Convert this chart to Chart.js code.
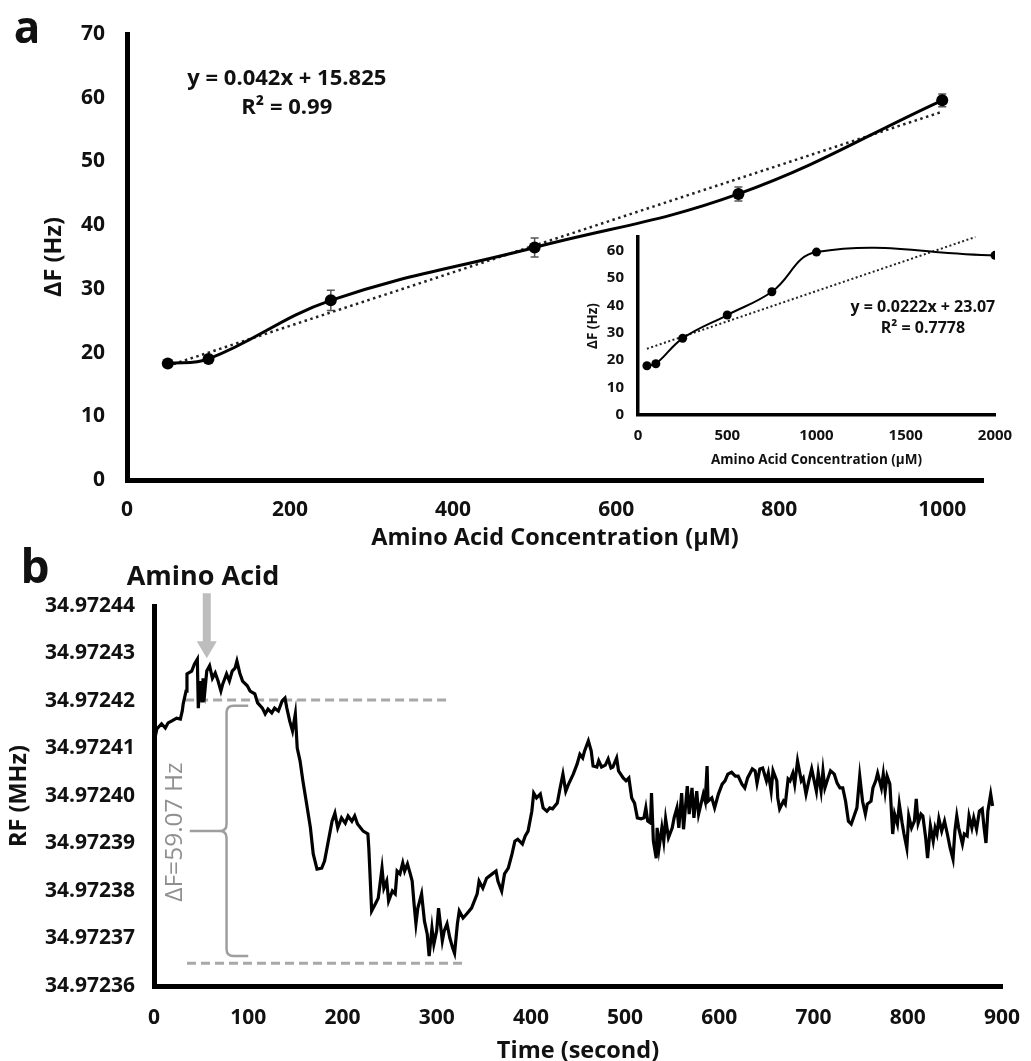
<!DOCTYPE html>
<html>
<head>
<meta charset="utf-8">
<script src="https://cdn.jsdelivr.net/npm/chart.js@4.4.1/dist/chart.umd.min.js"></script>
<style>
  body { margin: 0; background: #fff; }
  #wrap { position: relative; width: 1031px; height: 1061px; overflow: hidden; }
  canvas { position: absolute; }
</style>
</head>
<body>
<div id="wrap">
  <canvas id="chartA" width="1031" height="560" style="left:0;top:0"></canvas>
  <canvas id="chartInset" width="440" height="250" style="left:575px;top:225px"></canvas>
  <canvas id="chartB" width="1031" height="530" style="left:0;top:540px"></canvas>
</div>
<script>
// panel a: calibration curve (uM vs Hz)
const concA = [50, 100, 250, 500, 750, 1000];
const dfA = [18.3, 19.0, 28.2, 36.5, 44.9, 59.6];
const errA = [0.4, 0.5, 1.6, 1.5, 1.1, 1.0];
const trendA = [[50, 17.9], [1000, 57.8]];

// inset: full range up to 2000 uM
const concInset = [50, 100, 250, 500, 750, 1000, 2000];
const dfInset = [18.0, 18.7, 28.0, 36.5, 45.0, 59.5, 58.3];
const trendInset = [[50, 24.2], [1890, 65.0]];

// panel b: RF trace, [time s, Hz above 34.97236 MHz]
const rfBase = 34.97236;
const rfTrace = [[1,52.2],[3,54.1],[8,55.2],[12,54.3],[15,55.4],[19,55.8],[24,56.4],[28,56.2],[30,57.9],[31,59.4],[34,62.1],[35,65.7],[40,66.3],[43,67.8],[46,68.8],[47,58.5],[49,64.2],[51,60.0],[52,64.8],[54,62.1],[56,66.3],[59,67.4],[62,64.8],[65,65.9],[68,64.2],[71,62.1],[73,63.6],[77,65.7],[80,64.2],[83,66.3],[86,66.9],[88,68.4],[91,65.9],[94,64.2],[99,63.2],[102,62.1],[107,61.5],[110,59.6],[115,58.5],[118,57.3],[121,58.3],[125,57.5],[128,58.5],[132,57.9],[136,60.0],[139,60.6],[141,58.5],[144,55.8],[147,53.7],[150,57.3],[152,50.1],[155,47.4],[158,43.2],[162,38.3],[166,33.3],[169,27.8],[173,24.6],[178,24.8],[181,26.3],[185,30.5],[189,34.7],[192,36.4],[195,33.3],[199,35.4],[203,34.3],[206,35.8],[210,34.7],[213,35.8],[216,34.1],[222,32.6],[227,32.0],[228,29.0],[231,15.8],[235,17.3],[238,18.5],[242,24.8],[244,20.6],[247,22.1],[249,17.9],[253,20.0],[256,19.4],[258,24.2],[261,23.6],[264,25.9],[266,24.2],[269,25.7],[272,23.6],[274,22.1],[276,17.3],[278,13.1],[280,16.4],[284,19.4],[287,13.7],[290,10.9],[292,6.3],[295,12.2],[297,8.8],[300,11.6],[302,16.4],[306,9.5],[308,11.6],[311,13.1],[314,10.1],[317,8.0],[319,6.9],[322,13.1],[324,15.8],[328,14.3],[332,15.2],[337,16.4],[343,19.4],[345,22.1],[349,20.6],[353,22.7],[359,23.6],[363,24.2],[365,22.1],[369,20.0],[372,23.6],[376,24.8],[380,27.8],[383,30.5],[386,30.9],[391,29.9],[394,31.6],[397,32.6],[401,36.8],[403,40.6],[406,39.6],[410,40.4],[413,37.5],[417,36.8],[420,37.5],[423,37.3],[428,38.5],[431,41.7],[434,44.6],[437,41.0],[440,42.5],[445,44.6],[449,46.7],[452,48.8],[455,48.0],[457,49.5],[461,51.6],[464,49.5],[466,46.3],[470,46.1],[472,47.4],[475,46.1],[479,46.5],[482,47.8],[485,45.9],[487,46.1],[491,48.0],[493,45.3],[498,43.8],[501,43.2],[504,43.8],[507,39.6],[510,38.5],[513,35.4],[517,35.2],[520,35.4],[522,37.5],[524,34.7],[527,34.3],[528,40.6],[530,30.5],[533,26.9],[534,33.3],[536,29.0],[539,33.3],[541,30.5],[543,35.2],[546,31.2],[550,33.3],[552,35.4],[555,37.5],[557,33.3],[560,40.6],[562,33.0],[566,42.1],[568,36.2],[571,41.7],[573,35.4],[576,41.0],[578,36.2],[583,40.4],[585,38.9],[587,46.3],[588,38.9],[592,39.6],[595,37.5],[599,40.4],[603,42.5],[606,43.2],[609,44.6],[613,45.0],[617,44.2],[620,44.2],[624,42.5],[627,41.7],[630,43.8],[635,45.7],[638,45.3],[640,42.7],[643,45.7],[646,45.9],[650,43.2],[652,44.8],[655,41.0],[657,45.3],[661,43.2],[662,39.6],[664,37.3],[668,38.9],[670,38.3],[673,43.6],[675,43.2],[678,44.8],[680,42.5],[683,47.4],[687,43.2],[689,43.8],[692,40.4],[695,43.2],[698,45.7],[700,43.8],[703,41.0],[705,44.8],[708,41.0],[710,45.3],[712,41.7],[715,43.6],[718,45.3],[722,44.6],[725,42.7],[728,41.7],[731,41.7],[734,38.9],[737,34.7],[740,34.1],[743,35.8],[746,37.5],[749,44.2],[752,38.9],[755,36.2],[757,38.3],[761,38.9],[763,41.7],[766,43.2],[768,44.8],[772,41.7],[774,44.6],[776,41.0],[778,44.2],[781,42.5],[784,32.0],[786,36.2],[789,34.1],[791,38.3],[794,34.3],[796,32.0],[799,29.0],[801,35.8],[804,33.3],[807,34.7],[809,39.4],[811,34.3],[814,36.2],[816,35.8],[819,31.2],[821,26.9],[824,33.7],[827,30.5],[829,33.3],[831,32.0],[833,35.2],[836,32.6],[839,34.7],[842,32.0],[845,29.0],[848,26.7],[850,32.6],[852,35.8],[854,33.3],[858,29.9],[860,32.0],[863,31.6],[865,35.8],[868,33.3],[870,35.4],[873,33.0],[876,36.8],[879,37.3],[881,33.3],[883,30.1],[885,36.8],[888,40.4],[890,37.9]];
const upperLine = [[33, 60.2], [312, 60.2]];
const lowerLine = [[35, 4.8], [332, 4.8]];

const FONT = '"Open Sans", "DejaVu Sans", sans-serif';
const INK = '#111';
const toXY = arr => arr.map(p => ({ x: p[0], y: p[1] }));

// text drawn at data coordinates (or relative to chart area for panel letters)
function notesPlugin(id, notes) {
  return {
    id: id,
    afterDraw(chart) {
      const { ctx, scales, chartArea } = chart;
      notes.forEach(n => {
        let px, py;
        if (n.area) { px = chartArea.left + n.area[0]; py = chartArea.top + n.area[1]; }
        else { px = scales.x.getPixelForValue(n.x); py = scales.y.getPixelForValue(n.y); }
        ctx.save();
        ctx.font = n.font;
        ctx.fillStyle = n.color || INK;
        ctx.textAlign = 'center';
        ctx.textBaseline = 'middle';
        ctx.translate(px, py);
        if (n.rotate) ctx.rotate(n.rotate);
        ctx.fillText(n.text, 0, 0);
        ctx.restore();
      });
    }
  };
}

const errorBars = {
  id: 'errorBars',
  beforeDatasetsDraw(chart) {
    const { ctx, scales: { x, y } } = chart;
    ctx.save();
    ctx.strokeStyle = '#555';
    ctx.lineWidth = 1.5;
    concA.forEach((c, i) => {
      const px = x.getPixelForValue(c);
      const top = y.getPixelForValue(dfA[i] + errA[i]);
      const bot = y.getPixelForValue(dfA[i] - errA[i]);
      ctx.beginPath();
      ctx.moveTo(px, top); ctx.lineTo(px, bot);
      ctx.moveTo(px - 4, top); ctx.lineTo(px + 4, top);
      ctx.moveTo(px - 4, bot); ctx.lineTo(px + 4, bot);
      ctx.stroke();
    });
    ctx.restore();
  }
};

function axis(opts) {
  return {
    type: 'linear',
    min: opts.min, max: opts.max,
    grid: { display: false, drawTicks: false },
    border: { display: true, color: '#000', width: opts.border },
    ticks: {
      stepSize: opts.step, includeBounds: false, padding: opts.pad, color: INK,
      font: { family: FONT, size: opts.tick, weight: 'bold' },
      callback: opts.cb || (v => v)
    },
    title: {
      display: true, text: opts.title, color: INK,
      font: { family: FONT, size: opts.tsize, weight: 'bold' },
      padding: opts.tpad
    },
    afterFit(s) {
      if (opts.w) s.width = opts.w;
      if (opts.h) s.height = opts.h;
      // keep the plot box exactly where layout padding puts it
      s.paddingTop = s.paddingBottom = s.paddingLeft = s.paddingRight = 0;
    }
  };
}

const common = {
  responsive: false,
  animation: false,
  plugins: { legend: { display: false }, tooltip: { enabled: false } }
};

// ---- panel a ----
new Chart(document.getElementById('chartA'), {
  type: 'line',
  data: {
    datasets: [{
      data: concA.map((c, i) => ({ x: c, y: dfA[i] })),
      borderColor: '#000', borderWidth: 3, tension: 0.4,
      pointRadius: 6, pointBackgroundColor: '#000', pointBorderWidth: 0
    }, {
      data: toXY(trendA),
      borderColor: '#222', borderWidth: 2.5, borderDash: [2.5, 3.5],
      pointRadius: 0
    }]
  },
  options: Object.assign({}, common, {
    layout: { padding: { top: 34, right: 48, left: 0, bottom: 0 } },
    scales: {
      x: axis({ min: 0, max: 1050, step: 200, pad: 17, tick: 21, border: 5, h: 80,
        title: 'Amino Acid Concentration (µM)', tsize: 23.5, tpad: { top: 0, bottom: 8 } }),
      y: axis({ min: 0, max: 70, step: 10, pad: 22, tick: 21, border: 5, w: 127,
        title: 'ΔF (Hz)', tsize: 23.5, tpad: { top: 40, bottom: 0 } })
    }
  }),
  plugins: [errorBars, notesPlugin('notesA', [
    { text: 'a', area: [-100, -4], font: 'bold 44px ' + FONT },
    { text: 'y = 0.042x + 15.825', x: 196, y: 63, font: 'bold 22px ' + FONT },
    { text: 'R² = 0.99', x: 196, y: 58.4, font: 'bold 22px ' + FONT }
  ])]
});

// ---- inset ----
new Chart(document.getElementById('chartInset'), {
  type: 'line',
  data: {
    datasets: [{
      data: concInset.map((c, i) => ({ x: c, y: dfInset[i] })),
      borderColor: '#000', borderWidth: 2, tension: 0.4,
      pointRadius: 4.5, pointBackgroundColor: '#000', pointBorderWidth: 0
    }, {
      data: toXY(trendInset),
      borderColor: '#222', borderWidth: 2, borderDash: [2, 2.5],
      pointRadius: 0, clip: false
    }]
  },
  options: Object.assign({}, common, {
    layout: { padding: { top: 12, right: 20, left: 0, bottom: 0 } },
    scales: {
      x: axis({ min: 0, max: 2000, step: 500, pad: 12, tick: 15, border: 3.5, h: 60,
        title: 'Amino Acid Concentration (µM)', tsize: 13.5, tpad: { top: 0, bottom: 7 } }),
      y: axis({ min: 0, max: 65, step: 10, pad: 14, tick: 15, border: 3.5, w: 63,
        title: 'ΔF (Hz)', tsize: 13.5, tpad: { top: 10, bottom: 0 } })
    }
  }),
  plugins: [notesPlugin('notesInset', [
    { text: 'y = 0.0222x + 23.07', x: 1596, y: 39.1, font: 'bold 16px ' + FONT },
    { text: 'R² = 0.7778', x: 1596, y: 31.6, font: 'bold 16px ' + FONT }
  ])]
});

// ---- panel b ----
const arrowAndBrace = {
  id: 'arrowAndBrace',
  afterDatasetsDraw(chart) {
    const { ctx, scales: { x, y } } = chart;
    ctx.save();
    // arrow marking the injection
    const ax = x.getPixelForValue(56);
    const aTop = y.getPixelForValue(82.7);
    const aTip = y.getPixelForValue(69.0);
    ctx.fillStyle = '#bdbdbd';
    ctx.beginPath();
    ctx.moveTo(ax - 4, aTop); ctx.lineTo(ax + 4, aTop);
    ctx.lineTo(ax + 4, aTip - 17); ctx.lineTo(ax + 10, aTip - 17);
    ctx.lineTo(ax, aTip); ctx.lineTo(ax - 10, aTip - 17);
    ctx.lineTo(ax - 4, aTip - 17); ctx.closePath();
    ctx.fill();
    // curly brace for the frequency shift
    const bx = x.getPixelForValue(77);
    const bl = x.getPixelForValue(38);
    const br = x.getPixelForValue(100);
    const bt = y.getPixelForValue(59.0);
    const bb = y.getPixelForValue(6.3);
    const bm = (bt + bb) / 2;
    const r = 7;
    ctx.strokeStyle = '#9e9e9e';
    ctx.lineWidth = 2.5;
    ctx.beginPath();
    ctx.moveTo(br, bt); ctx.lineTo(bx + r, bt);
    ctx.quadraticCurveTo(bx, bt, bx, bt + r);
    ctx.lineTo(bx, bm - r);
    ctx.quadraticCurveTo(bx, bm, bx - r, bm);
    ctx.lineTo(bl, bm);
    ctx.moveTo(bx - r, bm);
    ctx.quadraticCurveTo(bx, bm, bx, bm + r);
    ctx.lineTo(bx, bb - r);
    ctx.quadraticCurveTo(bx, bb, bx + r, bb);
    ctx.lineTo(br, bb);
    ctx.stroke();
    ctx.restore();
  }
};

new Chart(document.getElementById('chartB'), {
  type: 'line',
  data: {
    datasets: [{
      data: toXY(rfTrace),
      borderColor: '#000', borderWidth: 3.2, tension: 0, pointRadius: 0
    }, {
      data: toXY(upperLine),
      borderColor: '#a8a8a8', borderWidth: 3, borderDash: [9, 5], pointRadius: 0
    }, {
      data: toXY(lowerLine),
      borderColor: '#a8a8a8', borderWidth: 3, borderDash: [9, 5], pointRadius: 0
    }]
  },
  options: Object.assign({}, common, {
    layout: { padding: { top: 66, right: 29, left: 0, bottom: 0 } },
    scales: {
      x: axis({ min: 0, max: 900, step: 100, pad: 19, tick: 21, border: 5, h: 84,
        title: 'Time (second)', tsize: 23.5, tpad: { top: 0, bottom: 5 } }),
      y: axis({ min: 0, max: 80, step: 10, pad: 19, tick: 21, border: 5, w: 154,
        cb: v => (rfBase + v / 1e6).toFixed(5),
        title: 'RF (MHz)', tsize: 23.5, tpad: { top: 5, bottom: 0 } })
    }
  }),
  plugins: [arrowAndBrace, notesPlugin('notesB', [
    { text: 'b', area: [-119, -36], font: 'bold 46px ' + FONT },
    { text: 'Amino Acid', x: 52, y: 86.1, font: 'bold 27px ' + FONT },
    { text: 'ΔF=59.07 Hz', x: 22, y: 32.4, font: '24.5px ' + FONT, color: '#8f8f8f', rotate: -Math.PI / 2 }
  ])]
});
</script>
</body>
</html>
